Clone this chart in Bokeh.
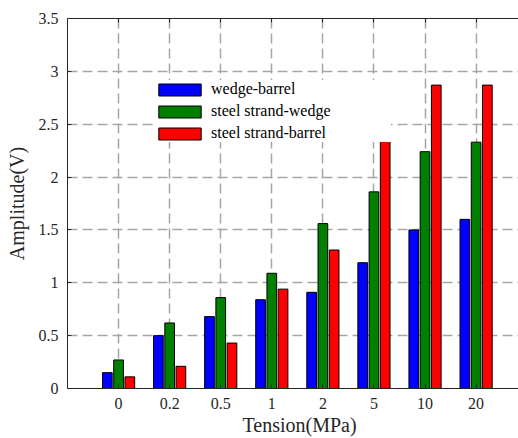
from bokeh.plotting import figure
from bokeh.models import (ColumnDataSource, FixedTicker, LinearAxis, Legend, LegendItem,
                          Range1d, NumeralTickFormatter, Title)
from bokeh.transform import dodge
from bokeh.embed import file_html
from bokeh.resources import INLINE

# ---- data ----
tension = ["0", "0.2", "0.5", "1", "2", "5", "10", "20"]
wedge_barrel = [0.15, 0.50, 0.68, 0.84, 0.91, 1.19, 1.50, 1.60]
strand_wedge = [0.27, 0.62, 0.86, 1.09, 1.56, 1.86, 2.24, 2.33]
strand_barrel = [0.11, 0.21, 0.43, 0.94, 1.31, 2.34, 2.87, 2.87]
series_names = ["wedge-barrel", "steel strand-wedge", "steel strand-barrel"]
series_colors = ["#0000FF", "#007F00", "#FF0000"]
y_ticks = [0, 0.5, 1, 1.5, 2, 2.5, 3, 3.5]

pos = [i + 1 for i in range(len(tension))]
src = ColumnDataSource(dict(x=pos, a=wedge_barrel, b=strand_wedge, c=strand_barrel))

FONT = "Liberation Serif"

p = figure(width=518, height=438, output_backend="svg", toolbar_location=None,
           x_range=Range1d(0, 8.83), y_range=Range1d(0, 3.5),
           min_border_left=67, min_border_right=0, min_border_top=18, min_border_bottom=50,
           background_fill_color="white", border_fill_color="white")
p.outline_line_color = None

# grid
p.xgrid.ticker = FixedTicker(ticks=pos)
p.ygrid.ticker = FixedTicker(ticks=y_ticks)
for g in (p.xgrid, p.ygrid):
    g.grid_line_color = "#A6A6A6"
    g.grid_line_dash = "10 5"
    g.grid_line_width = 1.5

# bars
offsets = [-0.22, 0.0, 0.22]
cols = ["a", "b", "c"]
renderers = []
for col, off, color in zip(cols, offsets, series_colors):
    r = p.vbar(x=dodge("x", off), top=col, width=0.19, source=src,
               fill_color=color, line_color="black", line_width=1)
    renderers.append(r)

# axes
xa = p.xaxis[0]
xa.ticker = FixedTicker(ticks=pos)
xa.major_label_overrides = {i + 1: t for i, t in enumerate(tension)}
ya = p.yaxis[0]
ya.ticker = FixedTicker(ticks=y_ticks)
ya.formatter = NumeralTickFormatter(format="0.[0]")
ya.axis_label = "Amplitude(V)"
ya.axis_label_text_font = FONT
ya.axis_label_text_font_size = "20px"
ya.axis_label_text_font_style = "normal"
ya.axis_label_text_color = "#262626"
ya.axis_label_standoff = 8

for ax in (xa, ya):
    ax.major_label_text_font_style = "normal"
    ax.major_label_text_color = "#262626"
    ax.major_label_text_font = FONT
    ax.major_label_text_font_size = "16px"
    ax.axis_line_color = "#262626"
    ax.major_tick_in = 4
    ax.major_tick_out = 0
    ax.minor_tick_in = 0
    ax.minor_tick_out = 0
    ax.major_tick_line_color = "#262626"
xa.major_label_standoff = 9
ya.major_label_standoff = 9

top = LinearAxis(ticker=FixedTicker(ticks=pos), major_label_text_font_size="1px",
                 major_label_text_alpha=0, major_label_standoff=0,
                 major_tick_in=4, major_tick_out=0, minor_tick_in=0, minor_tick_out=0,
                 axis_line_color="#262626", major_tick_line_color="#262626")
p.add_layout(top, "above")

xt = Title(text="Tension(MPa)", align="left", offset=175, text_font=FONT,
           text_font_size="20px", text_font_style="normal", text_color="#262626",
           standoff=0)
p.add_layout(xt, "below")

legend = Legend(items=[LegendItem(label=n, renderers=[r]) for n, r in zip(series_names, renderers)],
                location=(86, 246), glyph_width=53, glyph_height=15, spacing=4,
                padding=6, margin=0, label_standoff=5, label_width=180,
                label_text_font=FONT, label_text_font_size="16px", label_text_font_style="normal",
                label_text_color="black",
                label_height=15, border_line_color=None, background_fill_color="white",
                background_fill_alpha=1)
p.add_layout(legend)

open("out.html", "w").write(file_html(p, INLINE))
